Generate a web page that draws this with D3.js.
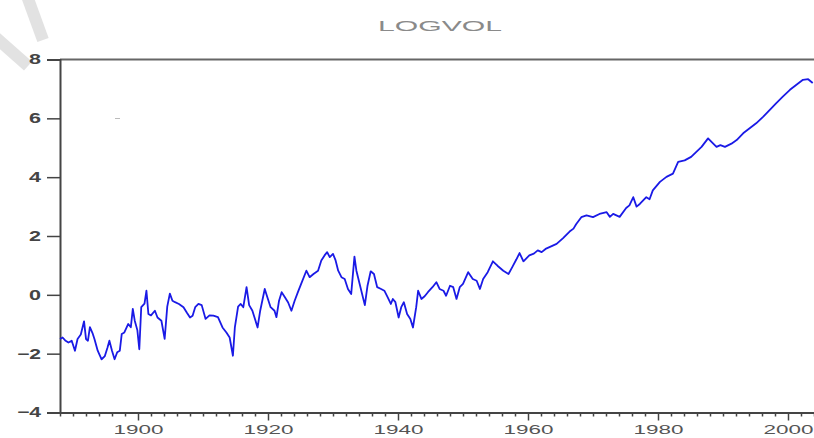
<!DOCTYPE html>
<html>
<head>
<meta charset="utf-8">
<script src="https://cdn.jsdelivr.net/npm/d3@7"></script>
<style>
  html, body { margin: 0; padding: 0; background: #fff; overflow: hidden; }
  svg { display: block; }
</style>
</head>
<body>
<div id="chart"></div>
<script>
// ---- data ----
const title = "LOGVOL";
const years = [
  1888.0,1888.4,1888.8,1889.3,1889.8,1890.3,1890.7,1891.2,1891.7,1892.0,1892.3,1892.6,1893.0,1893.3,1893.8,
  1894.4,1894.9,1895.3,1895.6,1896.0,1896.4,1896.8,1897.2,1897.5,1897.9,1898.5,1898.9,1899.2,1899.5,1899.9,
  1900.2,1900.5,1901.0,1901.3,1901.6,1902.0,1902.6,1903.0,1903.6,1904.1,1904.5,1904.9,1905.3,1905.7,1906.3,
  1907.0,1907.5,1908.0,1908.4,1908.8,1909.3,1909.8,1910.4,1911.0,1911.6,1912.3,1913.0,1913.6,1914.1,1914.6,
  1914.9,1915.4,1915.8,1916.2,1916.7,1917.1,1917.6,1918.4,1918.8,1919.5,1919.9,1920.4,1921.0,1921.3,1921.7,
  1922.1,1922.6,1923.1,1923.6,1924.1,1924.6,1925.1,1925.9,1926.4,1927.0,1927.7,1928.2,1928.7,1929.1,1929.5,
  1930.0,1930.4,1930.8,1931.3,1931.8,1932.3,1932.8,1933.3,1933.6,1934.1,1934.9,1935.3,1935.8,1936.3,1936.8,
  1937.4,1937.9,1938.4,1938.9,1939.2,1939.6,1940.1,1940.5,1940.9,1941.4,1941.9,1942.3,1942.8,1943.1,1943.6,
  1944.1,1944.6,1945.3,1945.9,1946.4,1947.0,1947.4,1948.0,1948.5,1949.0,1949.5,1950.0,1950.8,1951.5,1952.1,
  1952.6,1953.1,1953.8,1954.6,1955.3,1956.2,1957.0,1957.6,1958.2,1958.7,1959.3,1960.2,1960.9,1961.5,1962.1,
  1962.7,1963.3,1964.4,1965.4,1966.4,1967.0,1967.4,1968.2,1969.0,1970.0,1971.0,1972.1,1972.6,1973.1,1974.1,
  1975.1,1975.6,1976.2,1976.7,1977.2,1978.2,1978.7,1979.2,1980.3,1981.3,1982.3,1983.1,1984.1,1985.1,1985.9,
  1986.7,1987.7,1988.5,1989.0,1989.6,1990.3,1991.3,1992.1,1993.1,1994.1,1995.1,1996.2,1997.2,1998.2,1999.2,
  2000.3,2001.3,2002.3,2003.1,2003.8
];
const logvol = [
  -1.50,-1.45,-1.55,-1.62,-1.56,-1.90,-1.50,-1.35,-0.90,-1.50,-1.56,-1.10,-1.30,-1.50,-1.90,
  -2.19,-2.08,-1.80,-1.56,-1.90,-2.19,-1.95,-1.90,-1.33,-1.28,-0.99,-1.10,-0.48,-0.88,-1.20,
  -1.85,-0.42,-0.30,0.14,-0.65,-0.70,-0.54,-0.77,-0.88,-1.50,-0.40,0.04,-0.20,-0.25,-0.31,
  -0.42,-0.60,-0.77,-0.71,-0.42,-0.31,-0.35,-0.82,-0.70,-0.71,-0.76,-1.11,-1.28,-1.45,-2.07,
  -1.11,-0.40,-0.31,-0.42,0.26,-0.35,-0.54,-1.11,-0.54,0.20,-0.08,-0.42,-0.54,-0.76,-0.20,
  0.09,-0.08,-0.26,-0.54,-0.20,0.09,0.37,0.82,0.60,0.71,0.82,1.17,1.34,1.45,1.28,
  1.39,1.17,0.82,0.60,0.54,0.20,0.03,1.30,0.82,0.37,-0.35,0.30,0.80,0.71,0.26,
  0.20,0.14,-0.08,-0.31,-0.14,-0.25,-0.77,-0.42,-0.25,-0.65,-0.82,-1.11,-0.42,0.14,-0.14,
  -0.05,0.09,0.26,0.43,0.20,0.14,-0.03,0.31,0.26,-0.14,0.26,0.37,0.77,0.54,0.48,
  0.20,0.54,0.77,1.14,0.99,0.82,0.71,0.95,1.20,1.42,1.14,1.34,1.40,1.51,1.45,
  1.56,1.62,1.73,1.93,2.15,2.25,2.40,2.64,2.70,2.64,2.75,2.81,2.65,2.75,2.65,
  2.95,3.04,3.32,3.00,3.09,3.32,3.25,3.55,3.84,4.01,4.12,4.52,4.57,4.69,4.86,
  5.03,5.32,5.14,5.03,5.09,5.03,5.14,5.26,5.49,5.66,5.83,6.06,6.29,6.52,6.74,
  6.97,7.14,7.31,7.33,7.20
];
const yTicks = [-4, -2, 0, 2, 4, 6, 8];
const xMajorTicks = [1900, 1920, 1940, 1960, 1980, 2000];
const xDomain = [1888, 2005];
const yDomain = [-4, 8];

// ---- drawing ----
const W = 814, H = 438;
const svg = d3.select("#chart").append("svg").attr("width", W).attr("height", H);

const x = d3.scaleLinear().domain(xDomain).range([60, 820.5]);
const y = d3.scaleLinear().domain(yDomain).range([412.5, 59.5]);

// watermark fragments
svg.append("line").attr("x1", -6).attr("y1", 36).attr("x2", 28).attr("y2", 66)
  .attr("stroke", "#e2e2e2").attr("stroke-width", 12);
svg.append("line").attr("x1", 27).attr("y1", -4).attr("x2", 43).attr("y2", 40)
  .attr("stroke", "#e2e2e2").attr("stroke-width", 12);
svg.append("line").attr("x1", 115).attr("y1", 118.5).attr("x2", 120).attr("y2", 118.5)
  .attr("stroke", "#bbb").attr("stroke-width", 1);

// title
svg.append("text").text(title)
  .attr("x", 440).attr("y", 31).attr("text-anchor", "middle")
  .attr("textLength", 124).attr("lengthAdjust", "spacingAndGlyphs")
  .attr("font-family", "Liberation Sans, Arial, sans-serif").attr("font-size", 15)
  .attr("fill", "#8a8a8a");

// frame top
svg.append("line").attr("x1", 60).attr("x2", W).attr("y1", 59.5).attr("y2", 59.5)
  .attr("stroke", "#666").attr("stroke-width", 2);

// y axis
const yAxis = d3.axisLeft(y).tickValues(yTicks).tickSize(13).tickPadding(6).tickFormat(d3.format("d"));
const gy = svg.append("g").attr("transform", "translate(60,0)").call(yAxis);
gy.select(".domain").attr("stroke", "#444").attr("stroke-width", 2);
gy.selectAll(".tick line").attr("stroke", "#444").attr("stroke-width", 1.5);
gy.selectAll(".tick text")
  .attr("font-family", "Liberation Sans, Arial, sans-serif").attr("font-size", 14)
  .attr("fill", "#444").attr("font-weight", "bold")
  .attr("textLength", d => d < 0 ? 24 : 12).attr("lengthAdjust", "spacingAndGlyphs");

// x axis minor ticks every 2 years
const minor = d3.range(1888, 2005, 2).filter(v => !xMajorTicks.includes(v));
const xMinor = d3.axisBottom(x).tickValues(minor).tickSize(4).tickFormat("");
const gxm = svg.append("g").attr("transform", "translate(0,412.5)").call(xMinor);
gxm.select(".domain").remove();
gxm.selectAll(".tick line").attr("stroke", "#444").attr("stroke-width", 1.5);

const xAxis = d3.axisBottom(x).tickValues(xMajorTicks).tickSize(8).tickFormat(d3.format("d")).tickSizeOuter(0);
const gx = svg.append("g").attr("transform", "translate(0,412.5)").call(xAxis);
gx.select(".domain").attr("stroke", "#444").attr("stroke-width", 2);
gx.selectAll(".tick text")
  .attr("y", 21.5).attr("dy", null)
  .attr("font-family", "Liberation Sans, Arial, sans-serif").attr("font-size", 13)
  .attr("fill", "#555")
  .attr("textLength", 50).attr("lengthAdjust", "spacingAndGlyphs");
gx.selectAll(".tick line").attr("stroke", "#444").attr("stroke-width", 1.5);

// line
const data = years.map((t, i) => ({t, v: logvol[i]}));
const line = d3.line().x(d => x(d.t)).y(d => y(d.v));
svg.append("path").datum(data).attr("d", line)
  .attr("fill", "none").attr("stroke", "#1a1ae6").attr("stroke-width", 1.8)
  .attr("stroke-linejoin", "round");
</script>
</body>
</html>
